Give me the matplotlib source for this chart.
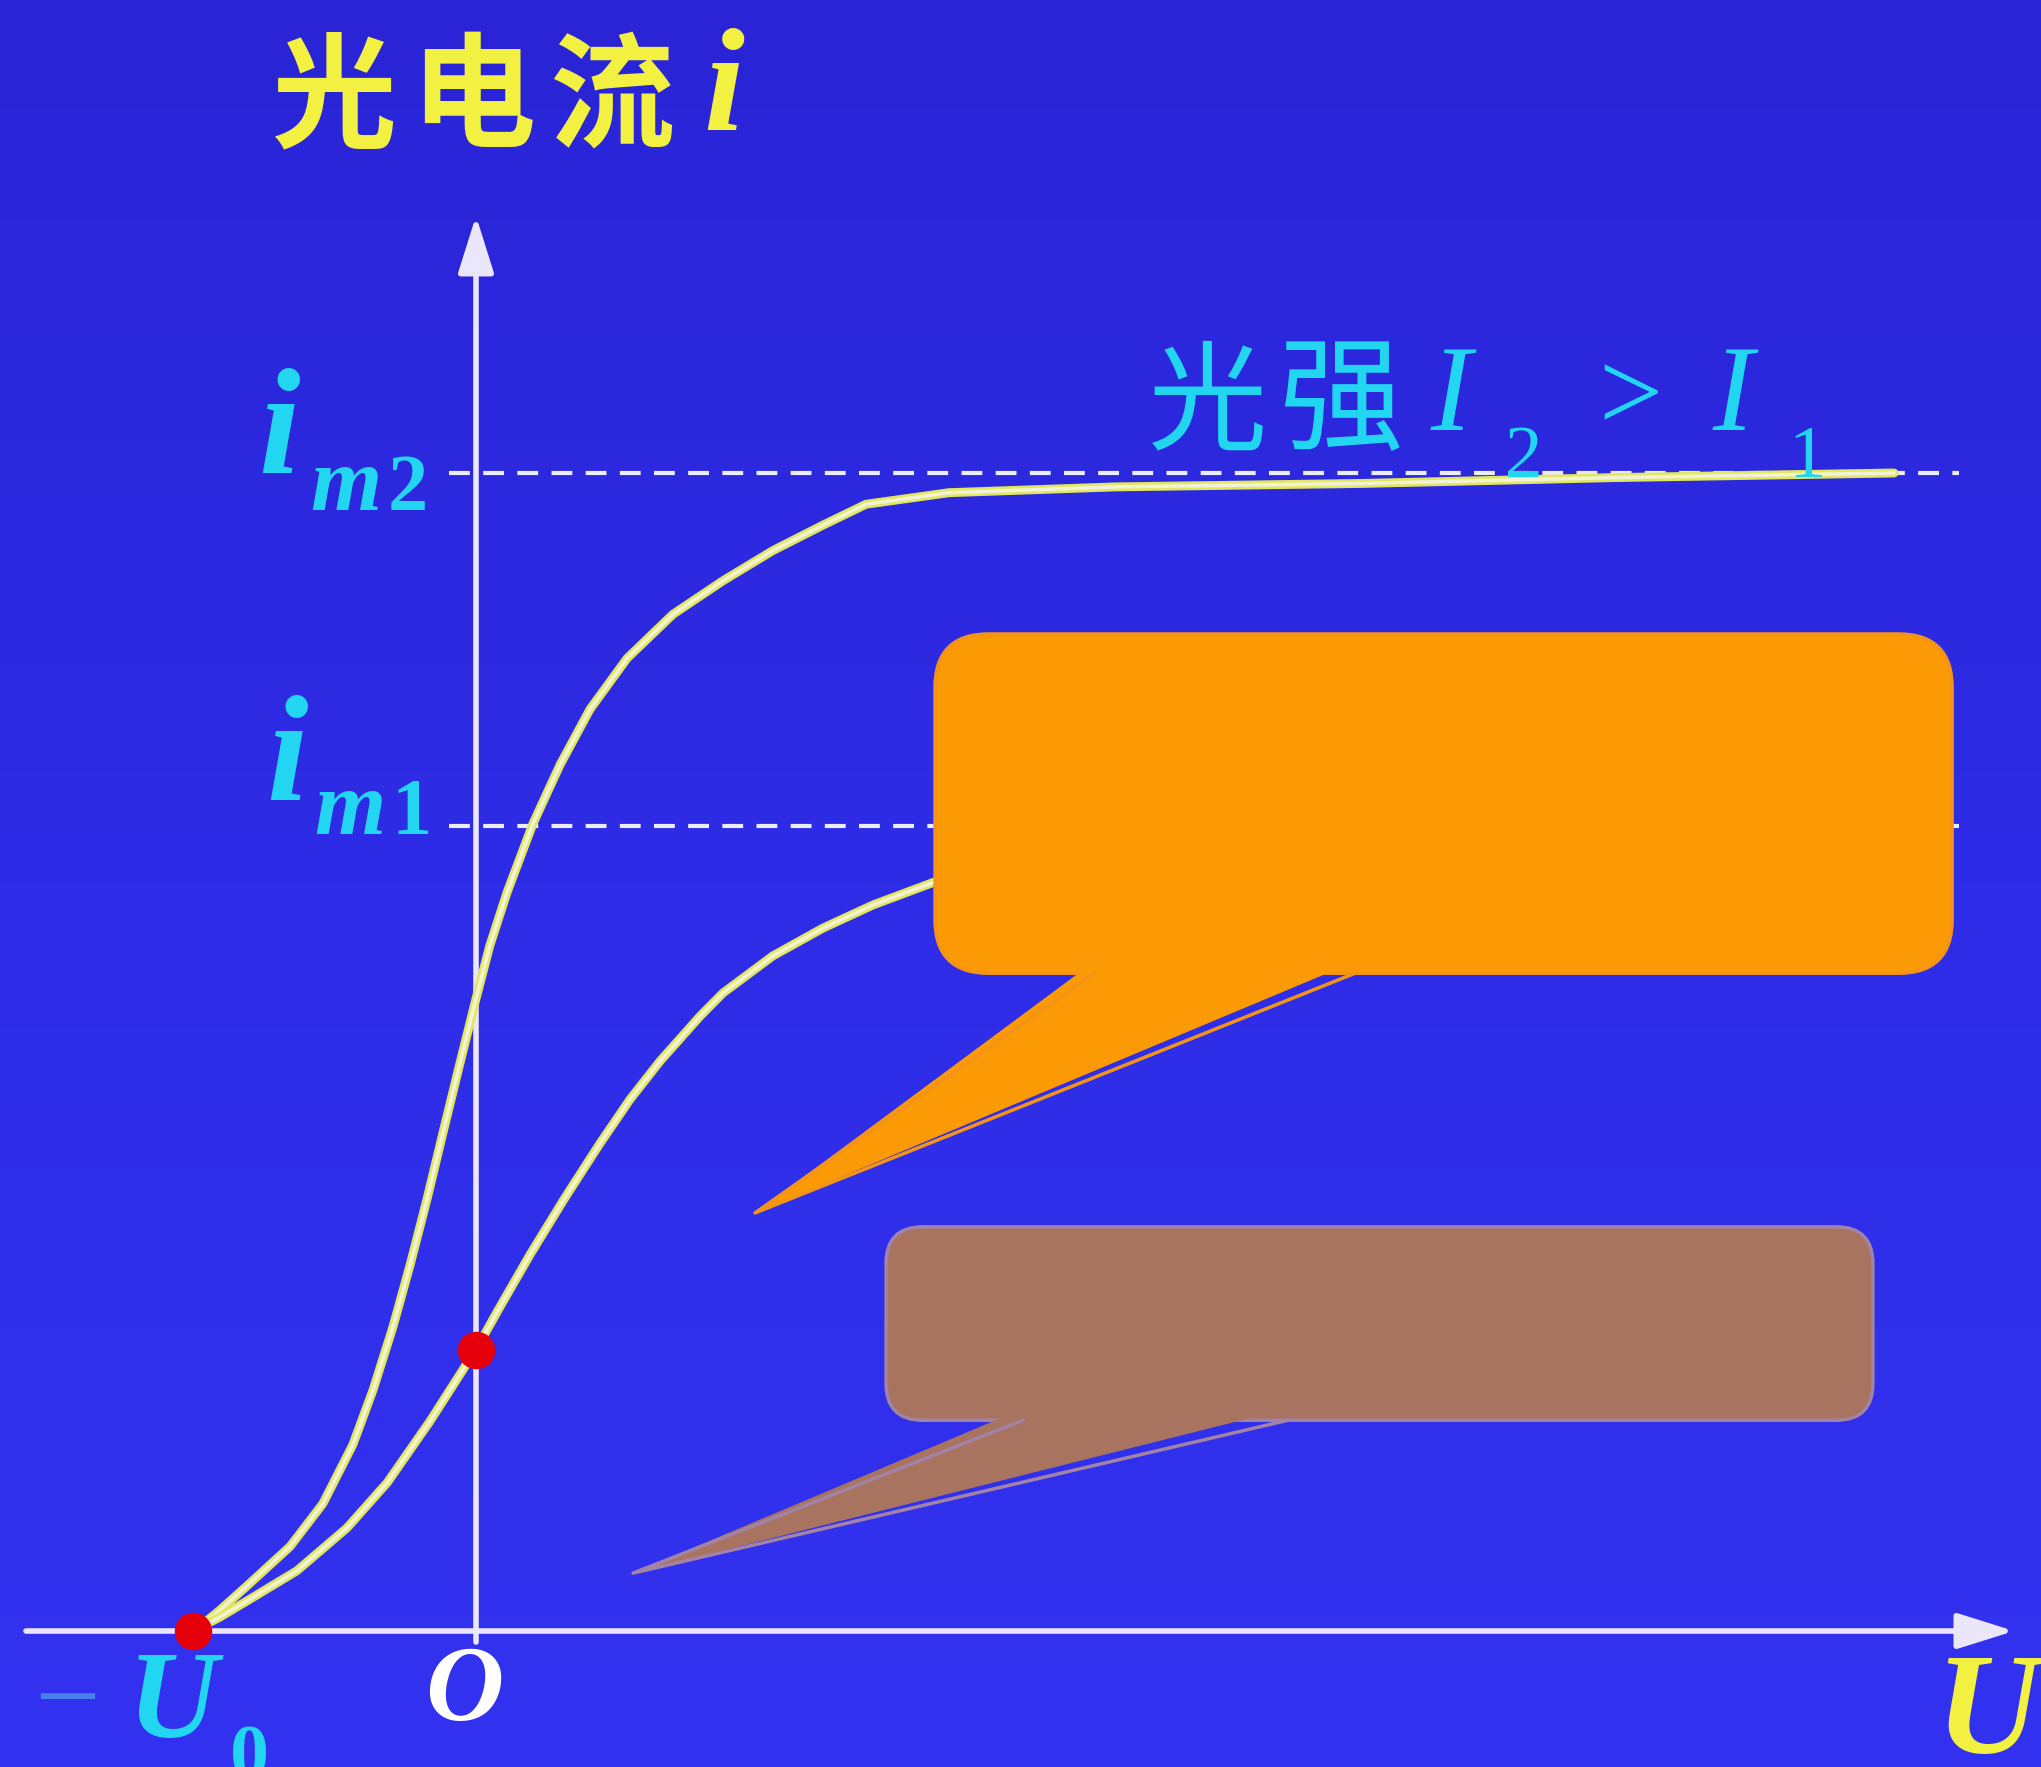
import numpy as np
import matplotlib
matplotlib.use('Agg')
import matplotlib.pyplot as plt
from matplotlib.colors import LinearSegmentedColormap
from matplotlib.patches import FancyBboxPatch, Polygon

# 画布尺寸（像素）
W, H = 2041, 1767
DPI = 100

# 数据：U 以 U0 为单位，i 以 i_m2 为单位
U0 = 1.0
i_m2 = 1.0
i_m1 = 0.695

# 光强 I2 曲线
u_I2 = [-1.000, -0.975, -0.905, -0.809, -0.657, -0.541, -0.435, -0.364, -0.293,
        -0.233, -0.173, -0.117, -0.057, 0.000, 0.049, 0.110, 0.201, 0.297,
        0.403, 0.534, 0.696, 0.873, 1.049, 1.226, 1.378, 1.671, 2.258, 3.134,
        4.014, 5.011]
i_I2 = [0.000, 0.004, 0.018, 0.039, 0.073, 0.110, 0.161, 0.208, 0.263,
        0.316, 0.373, 0.430, 0.490, 0.546, 0.592, 0.638, 0.697, 0.748,
        0.796, 0.840, 0.878, 0.907, 0.933, 0.955, 0.973, 0.983, 0.988, 0.991,
        0.996, 1.000]

# 光强 I1 曲线（右侧被橙色框遮住）
u_I1 = [-1.000, -0.905, -0.809, -0.633, -0.456, -0.314, -0.163, -0.032, 0.000,
        0.085, 0.191, 0.314, 0.438, 0.544, 0.650, 0.792, 0.873, 1.049, 1.226,
        1.403, 1.622]
i_I1 = [0.000, 0.012, 0.026, 0.052, 0.089, 0.128, 0.181, 0.231, 0.243,
        0.280, 0.325, 0.374, 0.421, 0.459, 0.492, 0.531, 0.551, 0.583, 0.607,
        0.627, 0.647]

# 红点：遏止电压和 U=0 处的电流
dot_u = [-U0, 0.0]
dot_i = [0.0, 0.243]

# 颜色
bg = '#2E2CE4'
yellow = '#F2F040'
cyan = '#22D6F2'
axis_c = '#ECE6FA'

# 像素 -> 数据 的比例
px_u, px_i = 283.0, 1158.0
ox, oy = 476.0, 1631.0

fig = plt.figure(figsize=(W / DPI, H / DPI), dpi=DPI)
fig.patch.set_facecolor(bg)
ax = fig.add_axes([0, 0, 1, 1])
x_lim = (-ox / px_u, (W - ox) / px_u)
y_lim = (-(H - oy) / px_i, oy / px_i)

# 背景：上深下浅的蓝色渐变
bg_cmap = LinearSegmentedColormap.from_list('bg', ['#2A24D6', '#2E2CE6', '#3232F0'])
ax.imshow(np.linspace(0, 1, 256).reshape(-1, 1), cmap=bg_cmap, aspect='auto',
          extent=(x_lim[0], x_lim[1], y_lim[0], y_lim[1]), origin='upper',
          zorder=0)
ax.set_xlim(*x_lim)
ax.set_ylim(*y_lim)
ax.axis('off')

# 坐标轴（带箭头）
ax.annotate('', xy=(5.445, 0), xytext=(-1.60, 0),
            arrowprops=dict(arrowstyle='-|>,head_length=0.7,head_width=0.22',
                            color=axis_c, lw=4, mutation_scale=50), zorder=3)
ax.annotate('', xy=(0, 1.2245), xytext=(0, -0.012),
            arrowprops=dict(arrowstyle='-|>,head_length=0.7,head_width=0.22',
                            color=axis_c, lw=4, mutation_scale=50), zorder=3)

# 饱和电流虚线
for lvl in [i_m2, i_m1]:
    ax.plot([-0.095, 5.24], [lvl, lvl], color='#ECECFF', lw=3,
            dashes=(5.0, 3.2), zorder=2)

# 曲线
for u, i in [(u_I2, i_I2), (u_I1, i_I1)]:
    ax.plot(u, i, color='#E2E85C', lw=6.4, solid_capstyle='round',
            solid_joinstyle='round', zorder=4)
    ax.plot(u, i, color='#F2F2D6', lw=2.6, solid_capstyle='round',
            solid_joinstyle='round', zorder=4)

asp = px_u / px_i


def callout(x0, x1, y0, y1, base, tip, fc, ec, r):
    box = FancyBboxPatch((x0, y0), x1 - x0, y1 - y0,
                         boxstyle=f'round,pad=0,rounding_size={r}',
                         mutation_aspect=asp, fc=fc, ec=ec, lw=2.5, zorder=6)
    ax.add_patch(box)
    tail = Polygon([(base[0], y0 + 0.01), (base[1], y0 + 0.01), tip],
                   closed=True, fc=fc, ec='none', zorder=6)
    ax.add_patch(tail)
    ax.plot([base[0], tip[0], base[1]], [y0, tip[1], y0], color=ec, lw=2.5,
            zorder=6)


# 橙色对话框
callout(1.622, 5.216, 0.568, 0.861, (2.184, 3.106), (0.986, 0.361),
        '#FB9A05', '#F39418', 0.19)
# 棕色对话框
callout(1.449, 4.936, 0.182, 0.349, (1.933, 2.869), (0.555, 0.050),
        '#A8735F', '#A283A6', 0.13)

# 红点
ax.plot(dot_u, dot_i, 'o', color='#E6000C', ms=27, mec='none', zorder=7)

# 文字
cjk = ['Noto Sans CJK SC', 'DejaVu Sans']
serif = 'Liberation Serif'


def ftxt(px, py, s, **kw):
    fig.text(px / W, 1 - py / H, s, ha='left', va='baseline', **kw)


for x, ch in zip([271, 410, 549], '光电流'):
    ftxt(x, 137, ch, family=cjk, fontsize=90, weight='bold', color=yellow)
ftxt(703, 130, 'i', family=serif, fontsize=106, weight='bold',
     style='italic', color=yellow)

ftxt(258, 473, 'i', family=serif, fontsize=108, weight='bold',
     style='italic', color=cyan)
ftxt(310, 510, 'm', family=serif, fontsize=66, weight='bold',
     style='italic', color=cyan)
ftxt(388, 510, '2', family=serif, fontsize=58, weight='bold', color=cyan)
ftxt(266, 800, 'i', family=serif, fontsize=108, weight='bold',
     style='italic', color=cyan)
ftxt(314, 834, 'm', family=serif, fontsize=66, weight='bold',
     style='italic', color=cyan)
ftxt(392, 834, '1', family=serif, fontsize=58, weight='bold', color=cyan)

ftxt(1148, 440, '光', family=cjk, fontsize=86, color=cyan)
ftxt(1278, 440, '强', family=cjk, fontsize=90, color=cyan)
ftxt(1430, 430, 'I', family=serif, fontsize=88, style='italic', color=cyan)
ftxt(1505, 477, '2', family=serif, fontsize=54, color=cyan)
ftxt(1598, 430, '>', family=serif, fontsize=82, color=cyan)
ftxt(1712, 430, 'I', family=serif, fontsize=88, style='italic', color=cyan)
ftxt(1788, 477, '1', family=serif, fontsize=54, color=cyan)

ftxt(34, 1735, '−', family=serif, fontsize=84, color='#4680EE')
ftxt(128, 1737, 'U', family=serif, fontsize=90, weight='bold',
     style='italic', color=cyan)
ftxt(230, 1778, '0', family=serif, fontsize=56, weight='bold', color=cyan)
ftxt(425, 1720, 'O', family=serif, fontsize=78, weight='bold',
     style='italic', color='white')
ftxt(1935, 1753, 'U', family=serif, fontsize=104, weight='bold',
     style='italic', color=yellow)

fig.savefig('out.png', dpi=DPI, facecolor=bg)
